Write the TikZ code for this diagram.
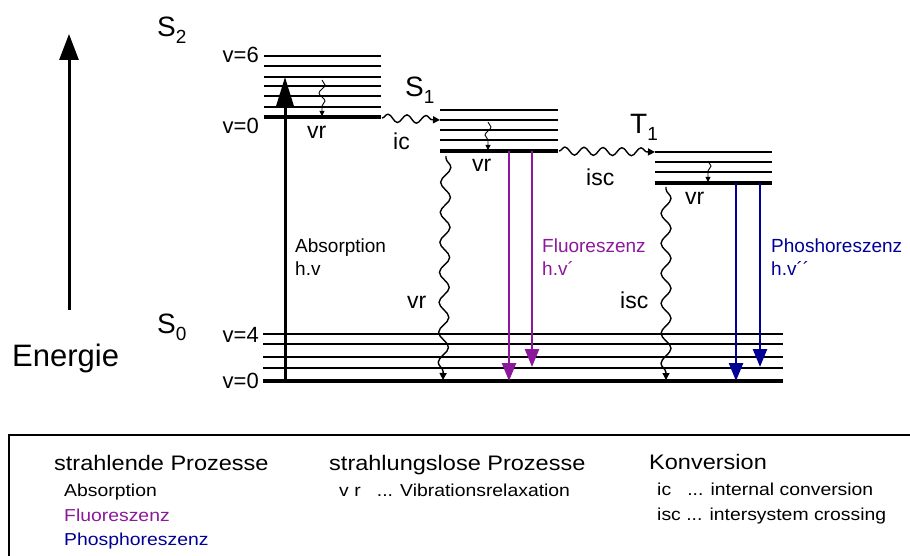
\documentclass[tikz,border=0pt]{standalone}
\usepackage{fontspec}
\setmainfont{Liberation Sans}
\newfontfamily\legfont[FakeStretch=1.12]{Liberation Sans}
\usetikzlibrary{arrows.meta,decorations.pathmorphing}
\definecolor{fluo}{RGB}{140,25,155}
\definecolor{phos}{RGB}{0,0,150}
\newcommand{\fs}[1]{\fontsize{#1}{#1}\selectfont}
\newcommand{\stlab}[2]{\fs{28}#1\raisebox{-7pt}{\fs{19}#2}}
\begin{document}
\begin{tikzpicture}[x=1pt,y=-1pt,
  lvl/.style={line width=2pt},
  lvlz/.style={line width=3.6pt},
  txt/.style={anchor=base west,inner sep=0pt,font=\fs{19}},
  vlab/.style={anchor=base east,inner sep=0pt,font=\fs{22}},
  plab/.style={anchor=base west,inner sep=0pt,font=\fs{23}},
  stl/.style={anchor=base west,inner sep=0pt},
  leghead/.style={anchor=base west,inner sep=0pt,font=\legfont\fs{21}},
  legitem/.style={anchor=base west,inner sep=0pt,font=\legfont\fs{17.3}},
  bigwave/.style={line width=1.4pt,decorate,
    decoration={snake,amplitude=5pt,segment length=30pt,pre length=2pt,post length=6pt},
    -{Triangle[length=7pt,width=7pt]}},
  hwave/.style={line width=1.4pt,decorate,
    decoration={snake,amplitude=4pt,segment length=19pt,post length=5pt},
    -{Triangle[length=7pt,width=7pt]}},
  smallwave/.style={line width=0.9pt,decorate,
    decoration={snake,amplitude=3pt,segment length=16pt,post length=4pt},
    -{Triangle[length=5pt,width=5pt]}},
  rad/.style={line width=2.5pt,-{Triangle[length=18pt,width=14pt]}},
]
\useasboundingbox (0,0) rectangle (910,556);
\clip (0,0) rectangle (910,556);

% Energy axis
\coordinate (eA) at (69,310);
\coordinate (eB) at (69,34);
\draw[line width=3pt,-{Triangle[length=26pt,width=19pt]}] (eA) -- (eB);
\node[anchor=base west,inner sep=0pt,font=\fs{31}] (energie) at (12,366) {Energie};

% S2 levels
\foreach \y [count=\i] in {56,66,77,86,96,107} {
  \coordinate (S2L\i) at (264,\y);
  \coordinate (S2R\i) at (381,\y);
  \draw[lvl] (S2L\i) -- (S2R\i);
}
\coordinate (S2L0) at (264,117);
\coordinate (S2R0) at (381,117);
\draw[lvlz] (S2L0) -- (S2R0);

% S1 levels
\foreach \y [count=\i] in {110,120,130,140} {
  \coordinate (S1L\i) at (440,\y);
  \coordinate (S1R\i) at (558,\y);
  \draw[lvl] (S1L\i) -- (S1R\i);
}
\coordinate (S1L0) at (440,151);
\coordinate (S1R0) at (558,151);
\draw[lvlz] (S1L0) -- (S1R0);

% T1 levels
\foreach \y [count=\i] in {152,162,172} {
  \coordinate (T1L\i) at (655,\y);
  \coordinate (T1R\i) at (772,\y);
  \draw[lvl] (T1L\i) -- (T1R\i);
}
\coordinate (T1L0) at (655,183);
\coordinate (T1R0) at (772,183);
\draw[lvlz] (T1L0) -- (T1R0);

% S0 levels
\foreach \y [count=\i] in {334,344,357,368} {
  \coordinate (S0L\i) at (263,\y);
  \coordinate (S0R\i) at (783,\y);
  \draw[lvl] (S0L\i) -- (S0R\i);
}
\coordinate (S0L0) at (263,381);
\coordinate (S0R0) at (783,381);
\draw[lvlz] (S0L0) -- (S0R0);

% state labels
\node[stl] (s2) at (157,37) {\stlab{S}{2}};
\node[stl] (s1) at (405,97) {\stlab{S}{1}};
\node[stl] (t1) at (630,134) {\stlab{T}{1}};
\node[stl] (s0) at (157,333) {\stlab{S}{0}};

% v labels
\node[vlab] (v6) at (259,63) {v=6};
\node[vlab] (v0a) at (259,134) {v=0};
\node[vlab] (v4) at (259,342) {v=4};
\node[vlab] (v0b) at (259,388) {v=0};

% absorption
\coordinate (absS) at (285,381);
\coordinate (absE) at (285,77);
\draw[line width=3pt,-{Triangle[length=29pt,width=17pt]}] (absS) -- (absE);
\node[txt] (abs1) at (295,252) {Absorption};
\node[txt] (abs2) at (295,275) {h.v};

% small vibrational relaxations
\coordinate (vr2s) at (322,80);  \coordinate (vr2e) at (322,116);
\draw[smallwave] (vr2s) -- (vr2e);
\coordinate (vr1s) at (488,122); \coordinate (vr1e) at (488,150);
\draw[smallwave] (vr1s) -- (vr1e);
\coordinate (vrts) at (708,161); \coordinate (vrte) at (708,182);
\draw[smallwave] (vrts) -- (vrte);
\node[plab] (vrA) at (307,139) {vr};
\node[plab] (vrB) at (472,172) {vr};
\node[plab] (vrC) at (685,205) {vr};

% ic and isc
\coordinate (icS) at (382,118);
\coordinate (icE) at (440,120);
\draw[hwave] (icS) -- (icE);
\node[plab] (ic) at (393,150) {ic};
\coordinate (iscS) at (559,151);
\coordinate (iscE) at (655,152);
\draw[hwave] (iscS) -- (iscE);
\node[plab] (isc) at (586,186) {isc};

% long non-radiative
\coordinate (lvrS) at (446,156);
\coordinate (lvrE) at (443,380);
\draw[bigwave] (lvrS) -- (lvrE);
\node[plab] (vrD) at (407,308) {vr};
\coordinate (liscS) at (666,187);
\coordinate (liscE) at (666,380);
\draw[bigwave] (liscS) -- (liscE);
\node[plab] (iscD) at (620,308) {isc};

% fluorescence
\coordinate (f1s) at (509,151); \coordinate (f1e) at (509,381);
\coordinate (f2s) at (532,151); \coordinate (f2e) at (532,367);
\draw[rad,fluo] (f1s) -- (f1e);
\draw[rad,fluo] (f2s) -- (f2e);
\node[txt,text=fluo] (fl1) at (542,252) {Fluoreszenz};
\node[txt,text=fluo] (fl2) at (542,275) {h.v´};

% phosphorescence
\coordinate (p1s) at (736,183); \coordinate (p1e) at (736,381);
\coordinate (p2s) at (760,183); \coordinate (p2e) at (760,367);
\draw[rad,phos] (p1s) -- (p1e);
\draw[rad,phos] (p2s) -- (p2e);
\node[txt,text=phos] (ph1) at (771,252) {Phoshoreszenz};
\node[txt,text=phos] (ph2) at (771,275) {h.v´´};

% legend
\draw[line width=2pt] (9,435) rectangle (960,620);
\node[leghead] (lh1) at (54,470) {strahlende Prozesse};
\node[legitem] (li1) at (64,496) {Absorption};
\node[legitem,text=fluo] (li2) at (64,521) {Fluoreszenz};
\node[legitem,text=phos] (li3) at (64,545) {Phosphoreszenz};
\node[leghead] (lh2) at (329,470) {strahlungslose Prozesse};
\node[legitem] (li4) at (339,496) {v r\ \ \ ... Vibrationsrelaxation};
\node[leghead] (lh3) at (649,469) {Konversion};
\node[legitem] (li5) at (657,495) {ic\ \ \ ... internal conversion};
\node[legitem] (li6) at (657,520) {isc ... intersystem crossing};
\end{tikzpicture}
\end{document}
